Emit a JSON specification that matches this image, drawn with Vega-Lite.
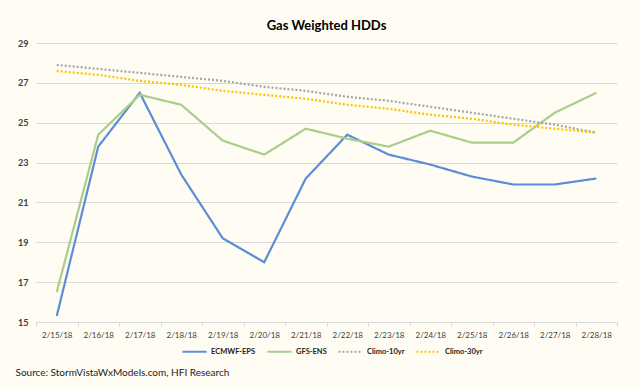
{
  "$schema": "https://vega.github.io/schema/vega-lite/v6.json",
  "width": 581,
  "height": 279,
  "autosize": {"type": "none"},
  "padding": {"left": 36, "top": 43, "right": 23, "bottom": 65},
  "background": "#FFFCF3",
  "title": {"text": "Gas Weighted HDDs", "font": "Lato", "fontSize": 13, "fontWeight": "bold", "color": "#000000", "offset": 6, "anchor": "middle"},
  "data": {"values": [
    {"date": "2/15/18", "series": "ECMWF-EPS", "value": 15.3},
    {"date": "2/16/18", "series": "ECMWF-EPS", "value": 23.8},
    {"date": "2/17/18", "series": "ECMWF-EPS", "value": 26.5},
    {"date": "2/18/18", "series": "ECMWF-EPS", "value": 22.4},
    {"date": "2/19/18", "series": "ECMWF-EPS", "value": 19.2},
    {"date": "2/20/18", "series": "ECMWF-EPS", "value": 18.0},
    {"date": "2/21/18", "series": "ECMWF-EPS", "value": 22.2},
    {"date": "2/22/18", "series": "ECMWF-EPS", "value": 24.4},
    {"date": "2/23/18", "series": "ECMWF-EPS", "value": 23.4},
    {"date": "2/24/18", "series": "ECMWF-EPS", "value": 22.9},
    {"date": "2/25/18", "series": "ECMWF-EPS", "value": 22.3},
    {"date": "2/26/18", "series": "ECMWF-EPS", "value": 21.9},
    {"date": "2/27/18", "series": "ECMWF-EPS", "value": 21.9},
    {"date": "2/28/18", "series": "ECMWF-EPS", "value": 22.2},
    {"date": "2/15/18", "series": "GFS-ENS", "value": 16.5},
    {"date": "2/16/18", "series": "GFS-ENS", "value": 24.4},
    {"date": "2/17/18", "series": "GFS-ENS", "value": 26.4},
    {"date": "2/18/18", "series": "GFS-ENS", "value": 25.9},
    {"date": "2/19/18", "series": "GFS-ENS", "value": 24.1},
    {"date": "2/20/18", "series": "GFS-ENS", "value": 23.4},
    {"date": "2/21/18", "series": "GFS-ENS", "value": 24.7},
    {"date": "2/22/18", "series": "GFS-ENS", "value": 24.2},
    {"date": "2/23/18", "series": "GFS-ENS", "value": 23.8},
    {"date": "2/24/18", "series": "GFS-ENS", "value": 24.6},
    {"date": "2/25/18", "series": "GFS-ENS", "value": 24.0},
    {"date": "2/26/18", "series": "GFS-ENS", "value": 24.0},
    {"date": "2/27/18", "series": "GFS-ENS", "value": 25.5},
    {"date": "2/28/18", "series": "GFS-ENS", "value": 26.5},
    {"date": "2/15/18", "series": "Climo-10yr", "value": 27.9},
    {"date": "2/16/18", "series": "Climo-10yr", "value": 27.7},
    {"date": "2/17/18", "series": "Climo-10yr", "value": 27.5},
    {"date": "2/18/18", "series": "Climo-10yr", "value": 27.3},
    {"date": "2/19/18", "series": "Climo-10yr", "value": 27.1},
    {"date": "2/20/18", "series": "Climo-10yr", "value": 26.8},
    {"date": "2/21/18", "series": "Climo-10yr", "value": 26.6},
    {"date": "2/22/18", "series": "Climo-10yr", "value": 26.3},
    {"date": "2/23/18", "series": "Climo-10yr", "value": 26.1},
    {"date": "2/24/18", "series": "Climo-10yr", "value": 25.8},
    {"date": "2/25/18", "series": "Climo-10yr", "value": 25.5},
    {"date": "2/26/18", "series": "Climo-10yr", "value": 25.2},
    {"date": "2/27/18", "series": "Climo-10yr", "value": 24.9},
    {"date": "2/28/18", "series": "Climo-10yr", "value": 24.5},
    {"date": "2/15/18", "series": "Climo-30yr", "value": 27.6},
    {"date": "2/16/18", "series": "Climo-30yr", "value": 27.4},
    {"date": "2/17/18", "series": "Climo-30yr", "value": 27.1},
    {"date": "2/18/18", "series": "Climo-30yr", "value": 26.9},
    {"date": "2/19/18", "series": "Climo-30yr", "value": 26.6},
    {"date": "2/20/18", "series": "Climo-30yr", "value": 26.4},
    {"date": "2/21/18", "series": "Climo-30yr", "value": 26.2},
    {"date": "2/22/18", "series": "Climo-30yr", "value": 25.9},
    {"date": "2/23/18", "series": "Climo-30yr", "value": 25.7},
    {"date": "2/24/18", "series": "Climo-30yr", "value": 25.4},
    {"date": "2/25/18", "series": "Climo-30yr", "value": 25.2},
    {"date": "2/26/18", "series": "Climo-30yr", "value": 24.9},
    {"date": "2/27/18", "series": "Climo-30yr", "value": 24.7},
    {"date": "2/28/18", "series": "Climo-30yr", "value": 24.5}
  ]},
  "mark": {"type": "line", "strokeWidth": 2.2, "strokeCap": "butt", "strokeJoin": "miter"},
  "encoding": {
    "x": {
      "field": "date", "type": "ordinal", "bandPosition": 0.5,
      "scale": {"type": "band", "paddingInner": 0, "paddingOuter": 0},
      "axis": {
        "title": "Source: StormVistaWxModels.com, HFI Research",
        "titleFont": "Lato", "titleFontSize": 10, "titleFontWeight": "normal", "titleColor": "#222222",
        "titleAnchor": "start", "titleAlign": "left", "titleX": -21, "titleY": 50, "titleBaseline": "middle",
        "labelAngle": 0, "labelFont": "Lato", "labelFontSize": 8, "labelColor": "#404040", "labelPadding": 5,
        "tickBand": "extent", "tickSize": 4, "tickColor": "#D9D9D9", "domainColor": "#D9D9D9", "grid": false
      }
    },
    "y": {
      "field": "value", "type": "quantitative",
      "scale": {"domain": [15, 29], "nice": false, "zero": false},
      "axis": {
        "title": null, "values": [15, 17, 19, 21, 23, 25, 27, 29],
        "labelFont": "Lato", "labelFontSize": 9, "labelFontWeight": "bold", "labelColor": "#404040", "labelPadding": 8,
        "domain": false, "ticks": false, "gridColor": "#D9D9D9", "gridWidth": 1
      }
    },
    "color": {
      "field": "series", "type": "nominal",
      "scale": {"domain": ["ECMWF-EPS", "GFS-ENS", "Climo-10yr", "Climo-30yr"], "range": ["#5B8ED6", "#A7CF8A", "#A5A5A5", "#FFC000"]},
      "legend": {
        "title": null, "orient": "none", "legendX": 145, "legendY": 295, "direction": "horizontal",
        "symbolType": "stroke", "symbolSize": 580, "symbolStrokeWidth": 2,
        "labelFont": "Lato", "labelFontSize": 7.5, "labelFontWeight": "bold", "labelColor": "#222222",
        "columnPadding": 7, "labelOffset": 3
      }
    },
    "strokeDash": {
      "field": "series", "type": "nominal",
      "scale": {"domain": ["ECMWF-EPS", "GFS-ENS", "Climo-10yr", "Climo-30yr"], "range": [[1, 0], [1, 0], [2, 2], [2, 2]]},
      "legend": {
        "title": null, "orient": "none", "legendX": 145, "legendY": 295, "direction": "horizontal",
        "symbolType": "stroke", "symbolSize": 580, "symbolStrokeWidth": 2,
        "labelFont": "Lato", "labelFontSize": 7.5, "labelFontWeight": "bold", "labelColor": "#222222",
        "columnPadding": 7, "labelOffset": 3
      }
    }
  },
  "config": {"view": {"stroke": null}}
}
